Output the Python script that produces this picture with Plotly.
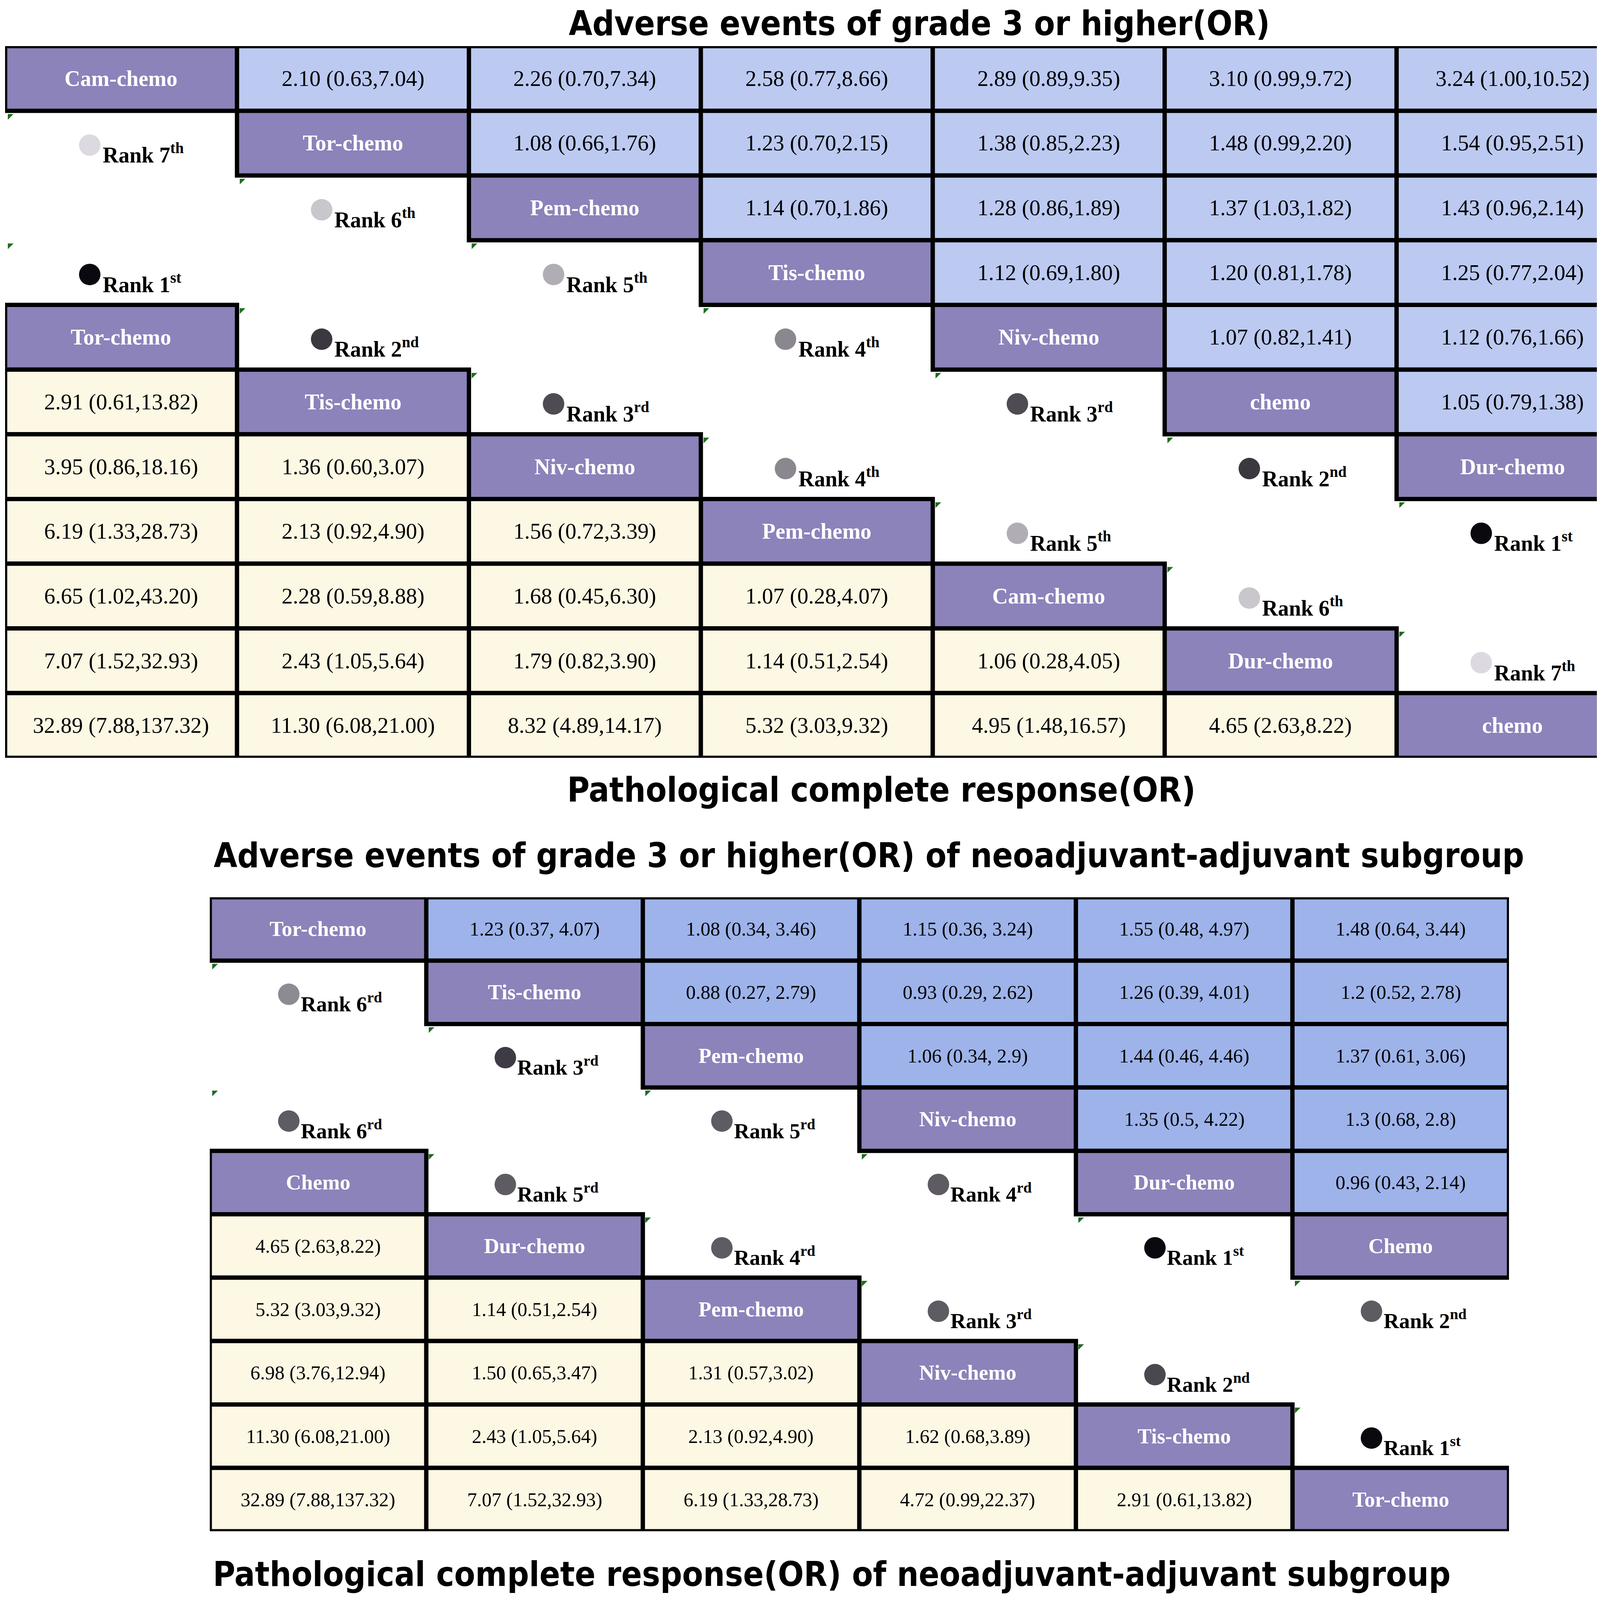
import plotly.graph_objects as go

W, H = 4183, 4124
OFF = 8  # the page body adds an 8px margin on every side
FW, FH = W - 2 * OFF, H - 2 * OFF - 30  # keep the page inside the visible window (no scrollbars)

# ---- top panel: all patients (7 treatments) ----
top_ae_names = ["Cam-chemo", "Tor-chemo", "Pem-chemo", "Tis-chemo", "Niv-chemo", "chemo", "Dur-chemo"]
top_ae_ranks = ["7th", "6th", "5th", "4th", "3rd", "2nd", "1st"]
top_ae_dots = ["#dcd9e0", "#c9c6cc", "#b0aeb4", "#8a888e", "#4e4b52", "#3b383f", "#0b0910"]
top_ae_values = [
    ["2.10 (0.63,7.04)", "2.26 (0.70,7.34)", "2.58 (0.77,8.66)", "2.89 (0.89,9.35)", "3.10 (0.99,9.72)", "3.24 (1.00,10.52)"],
    ["1.08 (0.66,1.76)", "1.23 (0.70,2.15)", "1.38 (0.85,2.23)", "1.48 (0.99,2.20)", "1.54 (0.95,2.51)"],
    ["1.14 (0.70,1.86)", "1.28 (0.86,1.89)", "1.37 (1.03,1.82)", "1.43 (0.96,2.14)"],
    ["1.12 (0.69,1.80)", "1.20 (0.81,1.78)", "1.25 (0.77,2.04)"],
    ["1.07 (0.82,1.41)", "1.12 (0.76,1.66)"],
    ["1.05 (0.79,1.38)"],
    [],
]
top_pcr_names = ["Tor-chemo", "Tis-chemo", "Niv-chemo", "Pem-chemo", "Cam-chemo", "Dur-chemo", "chemo"]
top_pcr_ranks = ["1st", "2nd", "3rd", "4th", "5th", "6th", "7th"]
top_pcr_dots = ["#0b0910", "#3b383f", "#4e4b52", "#8a888e", "#b0aeb4", "#c9c6cc", "#dcd9e0"]
top_pcr_values = [
    [],
    ["2.91 (0.61,13.82)"],
    ["3.95 (0.86,18.16)", "1.36 (0.60,3.07)"],
    ["6.19 (1.33,28.73)", "2.13 (0.92,4.90)", "1.56 (0.72,3.39)"],
    ["6.65 (1.02,43.20)", "2.28 (0.59,8.88)", "1.68 (0.45,6.30)", "1.07 (0.28,4.07)"],
    ["7.07 (1.52,32.93)", "2.43 (1.05,5.64)", "1.79 (0.82,3.90)", "1.14 (0.51,2.54)", "1.06 (0.28,4.05)"],
    ["32.89 (7.88,137.32)", "11.30 (6.08,21.00)", "8.32 (4.89,14.17)", "5.32 (3.03,9.32)", "4.95 (1.48,16.57)", "4.65 (2.63,8.22)"],
]

# ---- bottom panel: neoadjuvant-adjuvant subgroup (6 treatments) ----
bot_ae_names = ["Tor-chemo", "Tis-chemo", "Pem-chemo", "Niv-chemo", "Dur-chemo", "Chemo"]
bot_ae_ranks = ["6rd", "3rd", "5rd", "4rd", "1st", "2nd"]
bot_ae_dots = ["#8d8b91", "#3e3b44", "#5e5b62", "#5e5b62", "#0b0910", "#5e5b62"]
bot_ae_values = [
    ["1.23 (0.37, 4.07)", "1.08 (0.34, 3.46)", "1.15 (0.36, 3.24)", "1.55 (0.48, 4.97)", "1.48 (0.64, 3.44)"],
    ["0.88 (0.27, 2.79)", "0.93 (0.29, 2.62)", "1.26 (0.39, 4.01)", "1.2 (0.52, 2.78)"],
    ["1.06 (0.34, 2.9)", "1.44 (0.46, 4.46)", "1.37 (0.61, 3.06)"],
    ["1.35 (0.5, 4.22)", "1.3 (0.68, 2.8)"],
    ["0.96 (0.43, 2.14)"],
    [],
]
bot_pcr_names = ["Chemo", "Dur-chemo", "Pem-chemo", "Niv-chemo", "Tis-chemo", "Tor-chemo"]
bot_pcr_ranks = ["6rd", "5rd", "4rd", "3rd", "2nd", "1st"]
bot_pcr_dots = ["#5e5b62", "#5e5b62", "#5e5b62", "#5e5b62", "#4a474e", "#0b0910"]
bot_pcr_values = [
    [],
    ["4.65 (2.63,8.22)"],
    ["5.32 (3.03,9.32)", "1.14 (0.51,2.54)"],
    ["6.98 (3.76,12.94)", "1.50 (0.65,3.47)", "1.31 (0.57,3.02)"],
    ["11.30 (6.08,21.00)", "2.43 (1.05,5.64)", "2.13 (0.92,4.90)", "1.62 (0.68,3.89)"],
    ["32.89 (7.88,137.32)", "7.07 (1.52,32.93)", "6.19 (1.33,28.73)", "4.72 (0.99,22.37)", "2.91 (0.61,13.82)"],
]

titles = [
    "Adverse events of grade 3 or higher(OR)",
    "Pathological complete response(OR)",
    "Adverse events of grade 3 or higher(OR) of neoadjuvant-adjuvant subgroup",
    "Pathological complete response(OR) of neoadjuvant-adjuvant subgroup",
]

PURPLE = "#8b83ba"
CREAM = "#fdf8e4"
SERIF = "Liberation Serif, Times New Roman, serif"

fig = go.Figure()
shapes = []
annotations = []


def rank_text(r):
    return "Rank " + r[:-2] + "<sup>" + r[-2:] + "</sup>"


def draw_panel(ax, ae_names, ae_ranks, ae_dots, ae_vals, pcr_names, pcr_ranks, pcr_dots, pcr_vals,
               offset, blue, fs_val, fs_lab, fs_rank):
    xr, yr = "x" + ax, "y" + ax
    n = len(ae_names)

    def cell(r, c, fill):
        shapes.append(dict(type="rect", xref=xr, yref=yr, x0=c, x1=c + 1, y0=r, y1=r + 1,
                           fillcolor=fill, line=dict(color="black", width=11), layer="above"))

    def txt(r, c, s, color, size, weight="normal"):
        annotations.append(dict(xref=xr, yref=yr, x=c + 0.5, y=r + 0.5, text=s, showarrow=False,
                                font=dict(family=SERIF, size=size, color=color, weight=weight)))

    def rank(r, c, s):
        annotations.append(dict(xref=xr, yref=yr, x=c + 0.5 - 0.083, y=r + 0.66, xanchor="left",
                                text=rank_text(s), showarrow=False,
                                font=dict(family=SERIF, size=fs_rank, color="black", weight="bold")))

    dx, dy, cols = [], [], []
    gx, gy = [0], [3]  # little green corner flags left over in the source table
    # upper triangle (adverse events)
    for i in range(n):
        cell(i, i, PURPLE)
        txt(i, i, ae_names[i], "white", fs_lab, "bold")
        for k, v in enumerate(ae_vals[i]):
            cell(i, i + 1 + k, blue)
            txt(i, i + 1 + k, v, "black", fs_val)
        dx.append(i + 0.5 - 0.135)
        dy.append(i + 1 + 0.53)
        cols.append(ae_dots[i])
        rank(i + 1, i, ae_ranks[i])
        gx.append(i)
        gy.append(i + 1)
    # lower triangle (pathological complete response)
    for i in range(n):
        r = offset + i
        cell(r, i, PURPLE)
        txt(r, i, pcr_names[i], "white", fs_lab, "bold")
        for k, v in enumerate(pcr_vals[i]):
            cell(r, k, CREAM)
            txt(r, k, v, "black", fs_val)
        dx.append(i + 0.5 - 0.135)
        dy.append(r - 1 + 0.53)
        cols.append(pcr_dots[i])
        rank(r - 1, i, pcr_ranks[i])
        if i < n - 1:
            gx.append(i + 1)
            gy.append(r)

    fig.add_trace(go.Scatter(x=dx, y=dy, xaxis=xr, yaxis=yr, mode="markers", hoverinfo="skip",
                             marker=dict(size=55, color=cols, line=dict(width=0)), showlegend=False))
    fig.add_trace(go.Scatter(x=[v + 0.02 for v in gx], y=[v + 0.08 for v in gy], xaxis=xr, yaxis=yr,
                             mode="markers", hoverinfo="skip", showlegend=False,
                             marker=dict(symbol="triangle-nw", size=16, color="#1f6a1f", line=dict(width=0))))


draw_panel("", top_ae_names, top_ae_ranks, top_ae_dots, top_ae_values,
           top_pcr_names, top_pcr_ranks, top_pcr_dots, top_pcr_values,
           4, "#bccaf2", 57, 56, 56)
draw_panel("2", bot_ae_names, bot_ae_ranks, bot_ae_dots, bot_ae_values,
           bot_pcr_names, bot_pcr_ranks, bot_pcr_dots, bot_pcr_values,
           4, "#9db3ea", 50, 54, 55)

# titles (pixel centres; first and last nudged so they stay on the page)
title_pos = [(2353, 60), (2256, 2022), (2224, 2190), (2129, 4030)]
for t, (px, py) in zip(titles, title_pos):
    annotations.append(dict(xref="paper", yref="paper", x=(px - OFF) / FW, y=1 - (py - OFF) / FH,
                            text=t, showarrow=False, xanchor="center", yanchor="middle",
                            font=dict(family="DejaVu Sans Condensed, DejaVu Sans, sans-serif", size=87,
                                      color="black", weight="bold")))


def px_x(a, b):
    return [(a - OFF) / FW, (b - OFF) / FW]


def px_y(top, bottom):
    return [1 - (bottom - OFF) / FH, 1 - (top - OFF) / FH]


ax_style = dict(visible=False, showgrid=False, zeroline=False, fixedrange=True)
fig.update_layout(
    width=FW, height=FH, margin=dict(l=0, r=0, t=0, b=0),
    paper_bgcolor="white", plot_bgcolor="white",
    xaxis=dict(domain=px_x(13, 4169), range=[0, 7], **ax_style),
    yaxis=dict(domain=px_y(118, 1940), range=[11, 0], **ax_style),
    xaxis2=dict(domain=px_x(537, 3863), range=[0, 6], anchor="y2", **ax_style),
    yaxis2=dict(domain=px_y(2297, 3920), range=[10, 0], anchor="x2", **ax_style),
    shapes=shapes, annotations=annotations,
)

fig.write_html("out.html")
